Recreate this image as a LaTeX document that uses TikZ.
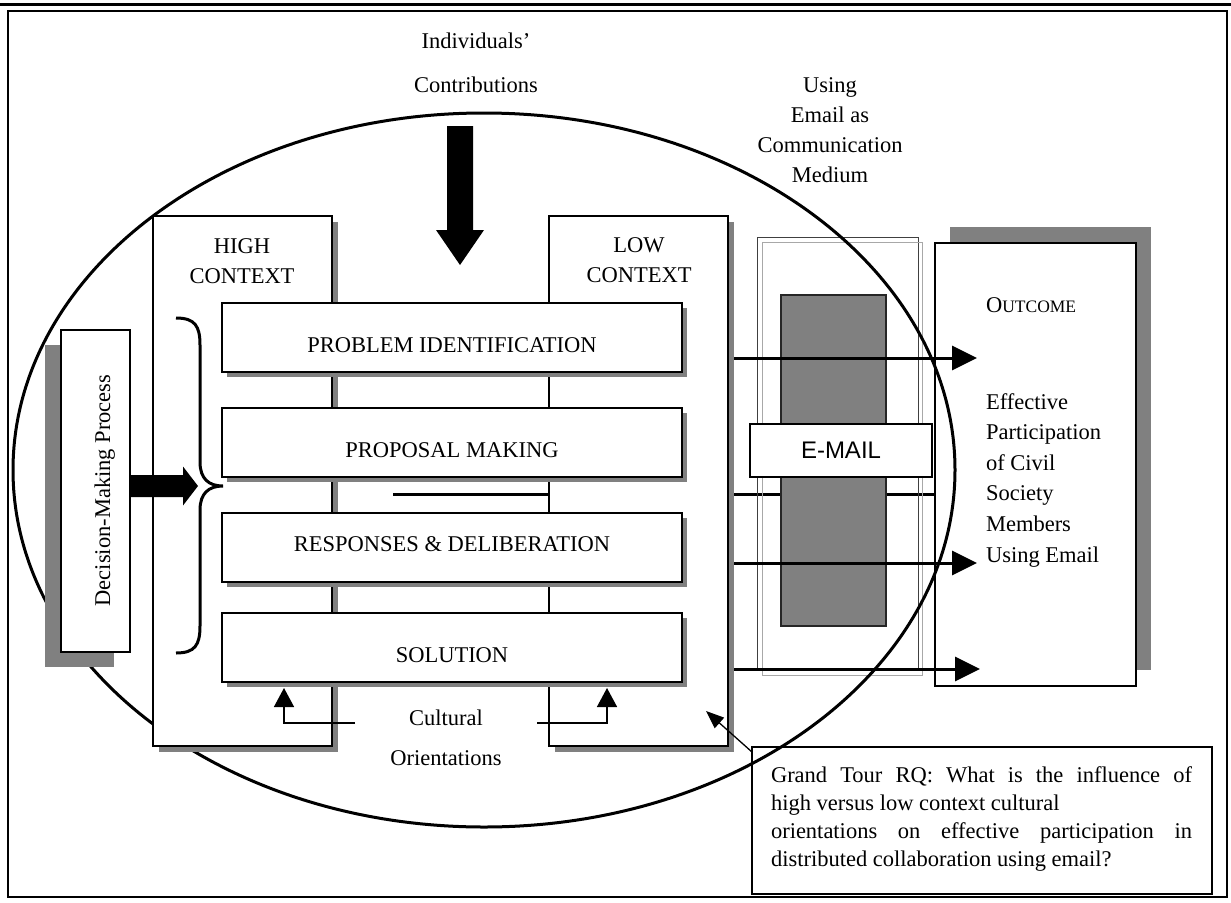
\documentclass[tikz,border=0pt]{standalone}
\usepackage{fontspec}
\setmainfont{Liberation Serif}
\newfontfamily\arialf{Liberation Sans}
\usetikzlibrary{arrows.meta,shadows}
\definecolor{sgray}{HTML}{808080}
\definecolor{framedark}{HTML}{404040}
\definecolor{framelight}{HTML}{A8A8A8}
\newcommand\bodyfs{\fontsize{22.5}{30}\selectfont}
\begin{document}
\begin{tikzpicture}[x=1pt,y=-1pt,
  every node/.style={font=\bodyfs, inner sep=0pt, outer sep=0pt},
  box/.style={draw=black, line width=1.3pt, fill=white},
  ctxshadow/.style={drop shadow={shadow xshift=6pt, shadow yshift=-6pt, fill=sgray, opacity=1}},
  stepshadow/.style={drop shadow={shadow xshift=5pt, shadow yshift=-5pt, fill=sgray, opacity=1}},
  stepbox/.style={box, stepshadow, minimum width=460pt, minimum height=69pt, text depth=0pt},
  ctxbox/.style={box, ctxshadow, minimum width=179pt, minimum height=530pt},
  thickarr/.style={line width=3pt, -{Triangle[length=25pt,width=24pt]}},
  thinarr/.style={line width=1.5pt, -{Triangle[length=19pt,width=20pt]}},
  blockarrow/.style={fill=black},
]
\useasboundingbox (0,0) rectangle (1231,902);
% page rule and frame
\draw[line width=2.5pt] (0,4.5) -- (1231,4.5);
\draw[line width=1.5pt] (8,11) rectangle (1227,897);

% line under proposal making (partly hidden)
\coordinate (l2s) at (393,494);
\coordinate (l2e) at (935,494);
\draw[line width=3pt] (l2s) -- (l2e);

% email medium frames
\node[draw=framedark, line width=1pt, minimum width=161pt, minimum height=432pt] (ef1) at (837.5,453) {};
\node[draw=framelight, line width=1pt, minimum width=160pt, minimum height=433pt] (ef2) at (842,458.5) {};
\node[draw=black!85, line width=1.2pt, fill=sgray, minimum width=105pt, minimum height=331pt] (gr) at (833.5,460.5) {};
\node[box, minimum width=182pt, minimum height=53pt, font=\arialf\fontsize{24}{28}\selectfont] (em) at (841,450.5) {E-MAIL};

% outcome box
\node[box, drop shadow={shadow xshift=15pt, shadow yshift=16pt, fill=sgray, opacity=1},
      minimum width=201pt, minimum height=443pt] (oc) at (1035.5,464.5) {};

% grand tour box
\node[box, minimum width=460pt, minimum height=147pt] (grand) at (982,820.5) {};

% ellipse
\draw[line width=3pt] (484,470) ellipse [x radius=471pt, y radius=357pt];

% context boxes
\node[ctxbox] (hc) at (242.5,481) {};
\node[ctxbox] (lc) at (638.5,481) {};

% steps
\node[stepbox, text height=29pt] (s1) at (452,337.5) {PROBLEM IDENTIFICATION};
\node[stepbox, text height=29pt] (s2) at (452,442.5) {PROPOSAL MAKING};
\node[stepbox, text height=7pt] (s3) at (452,547.5) {RESPONSES \& DELIBERATION};
\node[stepbox, text height=29pt] (s4) at (452,647.5) {SOLUTION};

% decision-making box
\node[box, drop shadow={shadow xshift=-16pt, shadow yshift=-15pt, fill=sgray, opacity=1},
      minimum width=69pt, minimum height=322pt] (dm) at (95.5,491) {};
\node[rotate=90, anchor=base] (dmt) at (110,490.5) {Decision-Making Process};

% brace
\draw[line width=3pt] (176,318) .. controls (195,318) and (200,326) .. (200,345)
  -- (200,462) .. controls (200,479) and (209,486) .. (223,486)
  .. controls (209,486) and (200,493) .. (200,510)
  -- (200,626) .. controls (200,645) and (195,653) .. (176,653);

% block arrows
\fill[blockarrow] (130,475) -- (183,475) -- (183,466.5) -- (198,486) -- (183,505.5) -- (183,497) -- (130,497) -- cycle;
\fill[blockarrow] (447,126) -- (473,126) -- (473,230) -- (484,230) -- (460,265) -- (436,230) -- (447,230) -- cycle;

% arrows to outcome
\coordinate (a1s) at (734,358); \coordinate (a1e) at (977,358);
\coordinate (a3s) at (734,563); \coordinate (a3e) at (977,563);
\coordinate (a4s) at (734,669); \coordinate (a4e) at (980,669);
\draw[thickarr] (a1s) -- (a1e);
\draw[thickarr] (a3s) -- (a3e);
\draw[thickarr] (a4s) -- (a4e);

% cultural orientations
\node[align=center, anchor=base, font=\fontsize{22.5}{40}\selectfont] (cult) at (446,765) {Cultural\\Orientations};
\coordinate (cl) at (355,723);
\coordinate (cr) at (537,723);
\draw[thinarr] (cl) -| ([yshift=-6pt]s4.south -| 284,0);
\draw[thinarr] (cr) -| ([yshift=-6pt]s4.south -| 607,0);

% grand tour arrow
\coordinate (gt) at (706,711);
\draw[line width=1.3pt, -{Triangle[length=18pt,width=14pt]}] ([shift={(0,5)}]grand.north west) -- (gt);

% texts
\node[align=center, anchor=base, font=\fontsize{22.5}{44}\selectfont] (ind) at (476,92) {Individuals'\\Contributions};
\node[align=center, anchor=base] (use) at (830,182) {Using\\Email as\\Communication\\Medium};
\node[align=center, anchor=base] (hct) at (242,283) {HIGH\\CONTEXT};
\node[align=center, anchor=base] (lct) at (639,282) {LOW\\CONTEXT};
\node[anchor=base west] (oct) at (986,312) {O{\fontsize{17.5}{20}\selectfont UTCOME}};
\node[align=left, anchor=base west, font=\fontsize{22.5}{30.6}\selectfont] (eff) at (986,562)
  {Effective\\Participation\\of Civil\\Society\\Members\\Using Email};
\node[align=left, anchor=base west, font=\fontsize{22.5}{28}\selectfont] (gtt) at (771,866)
  {\makebox[421pt][s]{Grand Tour RQ: What is the influence of}\\
   high versus low context cultural\\
   \makebox[421pt][s]{orientations on effective participation in}\\
   distributed collaboration using email?};
\end{tikzpicture}
\end{document}
